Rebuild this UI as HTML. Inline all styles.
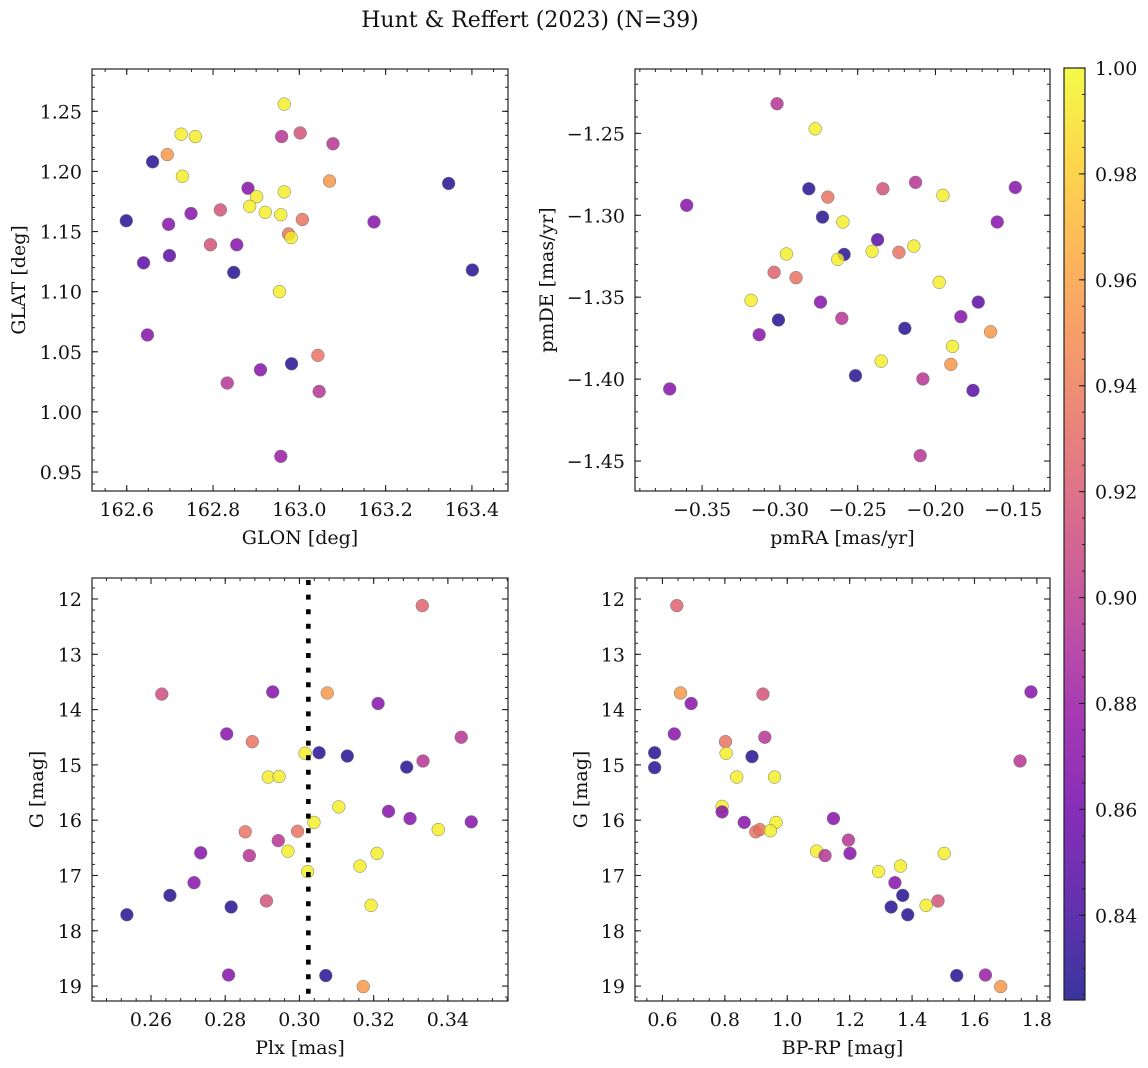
<!DOCTYPE html>
<html><head><meta charset="utf-8">
<style>
html,body{margin:0;padding:0;background:#fff;}
svg{display:block;font-family:"DejaVu Serif","Liberation Serif",serif;}
</style></head>
<body>
<svg id="fig" width="1148" height="1068" viewBox="0 0 1148 1068" xmlns="http://www.w3.org/2000/svg">
<defs>
<linearGradient id="plasma" x1="0" y1="1" x2="0" y2="0"></linearGradient>
</defs>
<text x="530" y="27" font-size="22" text-anchor="middle" fill="#111">Hunt &amp; Reffert (2023) (N=39)</text>
</svg>
<script>
// ---- data (39 members) ----
const glon = [162.965,162.726,162.759,162.694,162.660,162.729,162.959,163.002,163.078,162.881,162.901,162.965,163.070,163.346,162.599,162.697,162.749,162.817,162.885,162.921,162.957,163.007,163.173,162.975,162.981,162.639,162.699,162.794,162.855,162.848,163.401,162.954,162.648,163.043,162.982,162.910,162.833,163.046,162.957];
const glat = [1.256,1.231,1.229,1.214,1.208,1.196,1.229,1.232,1.223,1.186,1.179,1.183,1.192,1.190,1.159,1.156,1.165,1.168,1.171,1.166,1.164,1.160,1.158,1.148,1.145,1.124,1.130,1.139,1.139,1.116,1.118,1.100,1.064,1.047,1.040,1.035,1.024,1.017,0.963];
const probA = [.995,.995,.995,.955,.83,.995,.895,.915,.895,.87,.995,.995,.955,.83,.83,.87,.87,.915,.995,.995,.995,.935,.87,.935,.995,.85,.85,.915,.87,.83,.83,.995,.87,.935,.83,.87,.895,.895,.88];

const pmra = [-0.3018,-0.2773,-0.3599,-0.2814,-0.2692,-0.2726,-0.2595,-0.2338,-0.2128,-0.1952,-0.1487,-0.1603,-0.2372,-0.2587,-0.2958,-0.2628,-0.2407,-0.2235,-0.2139,-0.3037,-0.2896,-0.3185,-0.2739,-0.1976,-0.1725,-0.3009,-0.3133,-0.2602,-0.2197,-0.1837,-0.1646,-0.1890,-0.1901,-0.2349,-0.3708,-0.2514,-0.2081,-0.1759,-0.2098];
const pmde = [-1.2319,-1.2472,-1.2939,-1.2838,-1.2889,-1.3011,-1.3041,-1.2838,-1.2799,-1.2878,-1.2830,-1.3041,-1.3149,-1.3239,-1.3236,-1.3269,-1.3220,-1.3226,-1.3188,-1.3348,-1.3381,-1.3519,-1.3530,-1.3409,-1.3530,-1.3639,-1.3729,-1.3629,-1.3690,-1.3619,-1.3711,-1.3800,-1.3910,-1.3890,-1.4060,-1.3979,-1.3999,-1.4069,-1.4467];
const probB = [.895,.995,.87,.83,.935,.83,.995,.915,.895,.995,.87,.87,.85,.83,.995,.995,.995,.935,.995,.925,.935,.995,.87,.995,.85,.83,.87,.895,.83,.87,.955,.995,.955,.995,.87,.83,.895,.85,.895];

const plx = [0.3331,0.2629,0.2928,0.3075,0.3212,0.2804,0.2873,0.3436,0.3015,0.3053,0.3129,0.3289,0.3333,0.2916,0.2945,0.3106,0.3240,0.3298,0.3463,0.3039,0.3374,0.2854,0.2995,0.2943,0.2734,0.2865,0.2969,0.3209,0.3163,0.3022,0.2716,0.2651,0.2911,0.2816,0.3193,0.2535,0.2809,0.3071,0.3172];
const gA = [12.12,13.72,13.68,13.70,13.89,14.44,14.58,14.50,14.79,14.78,14.84,15.04,14.93,15.22,15.21,15.76,15.84,15.97,16.03,16.04,16.17,16.21,16.20,16.37,16.59,16.64,16.56,16.60,16.83,16.93,17.13,17.36,17.46,17.57,17.54,17.71,18.80,18.81,19.01];
const probC = [.925,.91,.87,.955,.87,.87,.935,.895,.995,.83,.83,.83,.895,.995,.995,.995,.87,.87,.87,.995,.995,.935,.935,.895,.87,.895,.995,.995,.995,.995,.87,.83,.915,.83,.995,.83,.87,.83,.955];
const plxCut = [0.3024];

const bprp = [0.646,0.658,0.692,0.922,1.781,0.638,0.575,0.575,0.802,0.928,0.804,0.887,1.746,0.838,0.959,0.791,0.791,0.862,0.964,0.899,0.912,0.946,1.148,1.196,1.201,1.094,1.121,1.293,1.363,1.503,1.345,1.370,1.333,1.386,1.445,1.483,1.543,1.635,1.684];
const gB = [12.12,13.70,13.89,13.72,13.68,14.44,14.78,15.05,14.58,14.50,14.79,14.85,14.93,15.22,15.22,15.75,15.85,16.04,16.04,16.21,16.17,16.19,15.97,16.36,16.60,16.56,16.64,16.93,16.83,16.60,17.13,17.36,17.57,17.71,17.54,17.46,18.81,18.80,19.01];
const probD = [.925,.955,.87,.915,.87,.87,.83,.83,.935,.895,.995,.83,.895,.995,.995,.995,.87,.87,.995,.935,.935,.995,.87,.895,.87,.995,.895,.995,.995,.995,.87,.83,.83,.83,.995,.915,.83,.88,.955];

const xTicks1 = [162.6,162.8,163.0,163.2,163.4];
const yTicks1 = [0.95,1.00,1.05,1.10,1.15,1.20,1.25];
const xTicks2 = [-0.35,-0.30,-0.25,-0.20,-0.15];
const yTicks2 = [-1.45,-1.40,-1.35,-1.30,-1.25];
const xTicks3 = [0.26,0.28,0.30,0.32,0.34];
const yTicksG = [12,13,14,15,16,17,18,19];
const xTicks4 = [0.6,0.8,1.0,1.2,1.4,1.6,1.8];
const cbTicks = [0.84,0.86,0.88,0.90,0.92,0.94,0.96,0.98,1.00];

// ---- rendering ----
const NS = "http://www.w3.org/2000/svg";
const svg = document.getElementById('fig');
const VMIN = 0.824, VMAX = 1.0;
const TFS = 19, LFS = 19;
const stops = ["#0d0887","#41049d","#6a00a8","#8f0da4","#b12a90","#cc4778","#e16462","#f2844b","#fca636","#fcce25","#f0f921"];
function hex(c){return [parseInt(c.slice(1,3),16),parseInt(c.slice(3,5),16),parseInt(c.slice(5,7),16)];}
function plasma(t){
  t=Math.max(0,Math.min(1,t));
  const f=t*10, i=Math.min(9,Math.floor(f)), u=f-i;
  const a=hex(stops[i]), b=hex(stops[i+1]);
  return 'rgb('+a.map((v,k)=>Math.round(v+(b[k]-v)*u)).join(',')+')';
}
function el(tag, attrs, parent){
  const e=document.createElementNS(NS,tag);
  for(const k in attrs) e.setAttribute(k,attrs[k]);
  (parent||svg).appendChild(e);
  return e;
}
function fmt(v,d){ const s=Math.abs(v).toFixed(d); return (v<0?'\u2212':'')+s; }

const grad = document.getElementById('plasma');
for(let i=0;i<=20;i++){
  const s=document.createElementNS(NS,'stop');
  s.setAttribute('offset',(i/20).toFixed(3));
  s.setAttribute('stop-color',plasma(i/20));
  grad.appendChild(s);
}

function panel(name, box, xlim, ylim, xt, yt, xd, yd, xmin, ymin, xs, ys, ps, xlabel, ylabel, ylabX){
  const g=el('g',{});
  
  
  const X=v=>box.l+(v-xlim[0])/(xlim[1]-xlim[0])*(box.r-box.l);
  const Y=v=>box.t+(v-ylim[0])/(ylim[1]-ylim[0])*(box.b-box.t);
  const lo=Math.min(xlim[0],xlim[1]), hi=Math.max(xlim[0],xlim[1]);
  for(let v=Math.ceil(lo/xmin-1e-6)*xmin; v<=hi+1e-9; v+=xmin){
    const x=X(v);
    el('line',{x1:x,x2:x,y1:box.b,y2:box.b-3,stroke:'#222','stroke-width':1},g);
    el('line',{x1:x,x2:x,y1:box.t,y2:box.t+3,stroke:'#222','stroke-width':1},g);
  }
  const ylo=Math.min(ylim[0],ylim[1]), yhi=Math.max(ylim[0],ylim[1]);
  for(let v=Math.ceil(ylo/ymin-1e-6)*ymin; v<=yhi+1e-9; v+=ymin){
    const y=Y(v);
    el('line',{x1:box.l,x2:box.l+3,y1:y,y2:y,stroke:'#222','stroke-width':1},g);
    el('line',{x1:box.r,x2:box.r-3,y1:y,y2:y,stroke:'#222','stroke-width':1},g);
  }
  xt.forEach(v=>{
    const x=X(v);
    el('line',{x1:x,x2:x,y1:box.b,y2:box.b-6,stroke:'#222','stroke-width':1.1},g);
    el('line',{x1:x,x2:x,y1:box.t,y2:box.t+6,stroke:'#222','stroke-width':1.1},g);
    const t=el('text',{x:x,y:box.b+25,'font-size':TFS,'text-anchor':'middle',fill:'#111'},g);
    
    
    t.textContent=fmt(v,xd);
  });
  yt.forEach(v=>{
    const y=Y(v);
    el('line',{x1:box.l,x2:box.l+6,y1:y,y2:y,stroke:'#222','stroke-width':1.1},g);
    el('line',{x1:box.r,x2:box.r-6,y1:y,y2:y,stroke:'#222','stroke-width':1.1},g);
    const t=el('text',{x:box.l-10,y:y+7,'font-size':TFS,'text-anchor':'end',fill:'#111'},g);
    
    
    t.textContent=fmt(v,yd);
  });
  xs.forEach((v,i)=>{
    const c=el('circle',{cx:X(v),cy:Y(ys[i]),r:6.4,fill:plasma((ps[i]-VMIN)/(VMAX-VMIN)),'fill-opacity':0.82,stroke:'#777','stroke-width':0.5},g);
    
    
  });
  const fr=el('rect',{x:box.l,y:box.t,width:box.r-box.l,height:box.b-box.t,fill:'none',stroke:'#222','stroke-width':1.2},g);
  
  
  const xl=el('text',{x:(box.l+box.r)/2,y:box.b+53,'font-size':LFS,'text-anchor':'middle',fill:'#111'},g);
  
  
  xl.textContent=xlabel;
  const cy=(box.t+box.b)/2;
  const yl=el('text',{x:ylabX,y:cy,'font-size':LFS,'text-anchor':'middle',fill:'#111',transform:'rotate(-90 '+ylabX+' '+cy+')'},g);
  
  
  yl.textContent=ylabel;
  return {X,Y,g,box};
}

panel('panel-glon-glat',{l:92,r:508,t:69,b:491},[162.5195,163.4836],[1.2852,0.9342],xTicks1,yTicks1,1,2,0.05,0.01,glon,glat,probA,'GLON [deg]','GLAT [deg]',25);
panel('panel-pm',{l:635,r:1050,t:69,b:491},[-0.3931,-0.1264],[-1.2107,-1.4683],xTicks2,yTicks2,2,2,0.01,0.01,pmra,pmde,probB,'pmRA [mas/yr]','pmDE [mas/yr]',553);
const p3=panel('panel-plx-g',{l:92,r:508,t:578,b:1001},[0.2441,0.3562],[11.62,19.27],xTicks3,yTicksG,2,0,0.004,0.2,plx,gA,probC,'Plx [mas]','G [mag]',43);
panel('panel-cmd',{l:635,r:1050,t:578,b:1001},[0.512,1.842],[11.62,19.27],xTicks4,yTicksG,1,0,0.05,0.2,bprp,gB,probD,'BP-RP [mag]','G [mag]',587);

plxCut.forEach(v=>{
  const x=p3.X(v);
  const ln=el('line',{x1:x,x2:x,y1:580,y2:1001,stroke:'#000','stroke-width':4.6,'stroke-dasharray':'5 9.6'});
  
  
});

const cb={l:1064,r:1085,t:68,b:1000};
const cbg=el('g',{});


el('rect',{x:cb.l,y:cb.t,width:cb.r-cb.l,height:cb.b-cb.t,fill:'url(#plasma)','fill-opacity':0.82},cbg);
const CY=v=>cb.b-(v-VMIN)/(VMAX-VMIN)*(cb.b-cb.t);
for(let v=Math.ceil(VMIN/0.005-1e-6)*0.005; v<=VMAX+1e-9; v+=0.005){
  el('line',{x1:cb.r,x2:cb.r-3,y1:CY(v),y2:CY(v),stroke:'#222','stroke-width':1},cbg);
}
cbTicks.forEach(v=>{
  const y=CY(v);
  el('line',{x1:cb.r,x2:cb.r-6,y1:y,y2:y,stroke:'#222','stroke-width':1.1},cbg);
  const t=el('text',{x:cb.r+10,y:y+7,'font-size':TFS,fill:'#111'},cbg);
  
  
  t.textContent=v.toFixed(2);
});
el('rect',{x:cb.l,y:cb.t,width:cb.r-cb.l,height:cb.b-cb.t,fill:'none',stroke:'#222','stroke-width':1.2},cbg);
</script>
</body></html>
